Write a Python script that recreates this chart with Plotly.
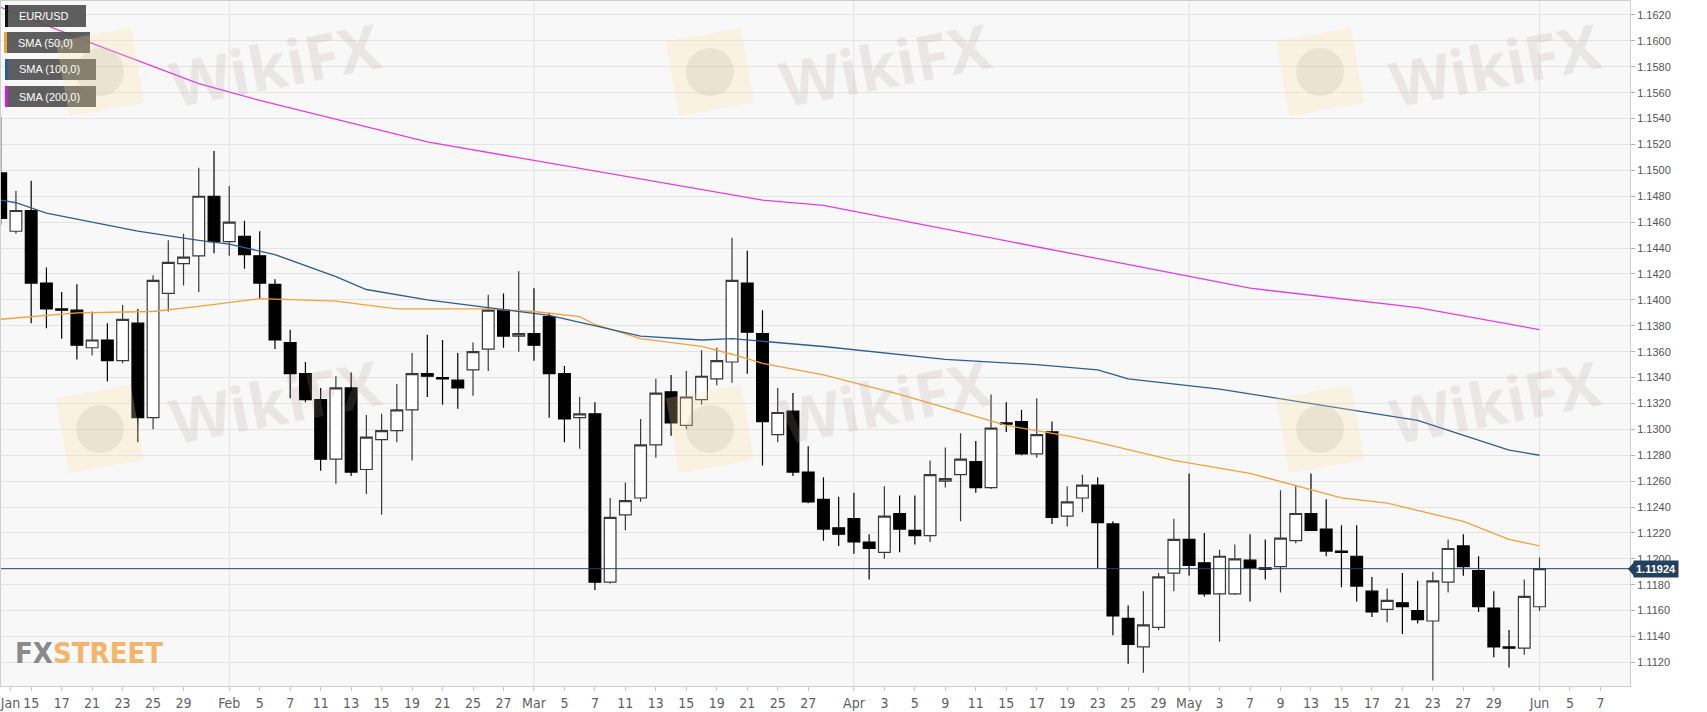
import numpy as np
import pandas as pd
import plotly.graph_objects as go

# ---------------- data ----------------
dates = pd.bdate_range("2019-01-11", "2019-06-03")

opens = [1.1498, 1.1453, 1.1469, 1.1413, 1.1393, 1.1392, 1.1363, 1.1369, 1.1353, 1.1382,
         1.1309, 1.1405, 1.1428, 1.1434, 1.1480, 1.1445, 1.1449, 1.1434, 1.1412, 1.1367,
         1.1343, 1.1323, 1.1277, 1.1332, 1.1269, 1.1292, 1.1299, 1.1315, 1.1343, 1.1340,
         1.1338, 1.1346, 1.1362, 1.1392, 1.1372, 1.1374, 1.1387, 1.1343, 1.1309, 1.1312,
         1.1182, 1.1234, 1.1247, 1.1288, 1.1329, 1.1303, 1.1323, 1.1339, 1.1352, 1.1413,
         1.1374, 1.1296, 1.1314, 1.1267, 1.1246, 1.1224, 1.1231, 1.1213, 1.1205, 1.1235,
         1.1222, 1.1218, 1.1260, 1.1265, 1.1275, 1.1255, 1.1305, 1.1306, 1.1281, 1.1298,
         1.1233, 1.1247, 1.1257, 1.1227, 1.1154, 1.1132, 1.1147, 1.1189, 1.1215, 1.1197,
         1.1173, 1.1173, 1.1199, 1.1193, 1.1194, 1.1214, 1.1235, 1.1223, 1.1206, 1.1202,
         1.1175, 1.1161, 1.1166, 1.1160, 1.1152, 1.1182, 1.1210, 1.1191, 1.1162, 1.1132,
         1.1131, 1.1163]
highs = [1.1541, 1.1484, 1.1492, 1.1425, 1.1406, 1.1412, 1.1391, 1.1382, 1.1396, 1.1393,
         1.1419, 1.1446, 1.1451, 1.1502, 1.1515, 1.1488, 1.1461, 1.1453, 1.1416, 1.1377,
         1.1352, 1.1332, 1.1341, 1.1344, 1.1311, 1.1312, 1.1335, 1.1359, 1.1373, 1.1369,
         1.1359, 1.1367, 1.1404, 1.1405, 1.1422, 1.1409, 1.1390, 1.1349, 1.1325, 1.1321,
         1.1247, 1.1259, 1.1308, 1.1339, 1.1342, 1.1345, 1.1361, 1.1363, 1.1448, 1.1438,
         1.1392, 1.1332, 1.1328, 1.1287, 1.1263, 1.1248, 1.1251, 1.1219, 1.1256, 1.1249,
         1.1249, 1.1276, 1.1286, 1.1297, 1.1291, 1.1327, 1.1321, 1.1315, 1.1324, 1.1306,
         1.1256, 1.1265, 1.1263, 1.1229, 1.1164, 1.1175, 1.1189, 1.1231, 1.1266, 1.1220,
         1.1207, 1.1211, 1.1219, 1.1215, 1.1253, 1.1256, 1.1266, 1.1246, 1.1226, 1.1226,
         1.1186, 1.1177, 1.1189, 1.1183, 1.1190, 1.1215, 1.1219, 1.1202, 1.1175, 1.1145,
         1.1184, 1.1201]
lows = [1.1458, 1.1451, 1.1382, 1.1378, 1.1370, 1.1354, 1.1357, 1.1337, 1.1351, 1.1290,
        1.1300, 1.1391, 1.1411, 1.1406, 1.1436, 1.1434, 1.1424, 1.1401, 1.1362, 1.1324,
        1.1321, 1.1268, 1.1258, 1.1264, 1.1250, 1.1234, 1.1290, 1.1276, 1.1325, 1.1319,
        1.1316, 1.1326, 1.1345, 1.1363, 1.1360, 1.1353, 1.1309, 1.1290, 1.1285, 1.1176,
        1.1181, 1.1222, 1.1244, 1.1278, 1.1295, 1.1300, 1.1319, 1.1334, 1.1336, 1.1343,
        1.1272, 1.1290, 1.1264, 1.1243, 1.1214, 1.1210, 1.1204, 1.1184, 1.1200, 1.1205,
        1.1211, 1.1213, 1.1255, 1.1229, 1.1251, 1.1254, 1.1298, 1.1280, 1.1278, 1.1227,
        1.1225, 1.1236, 1.1193, 1.1141, 1.1119, 1.1112, 1.1145, 1.1175, 1.1187, 1.1171,
        1.1136, 1.1172, 1.1167, 1.1184, 1.1174, 1.1212, 1.1222, 1.1202, 1.1178, 1.1167,
        1.1155, 1.1151, 1.1142, 1.1150, 1.1106, 1.1174, 1.1187, 1.1159, 1.1124, 1.1116,
        1.1126, 1.1160]
closes = [1.1463, 1.1469, 1.1413, 1.1393, 1.1392, 1.1365, 1.1369, 1.1353, 1.1385, 1.1309,
          1.1415, 1.1429, 1.1433, 1.1480, 1.1445, 1.1460, 1.1435, 1.1413, 1.1369, 1.1343,
          1.1323, 1.1277, 1.1332, 1.1267, 1.1294, 1.1299, 1.1315, 1.1343, 1.1341, 1.1339,
          1.1332, 1.1360, 1.1392, 1.1372, 1.1374, 1.1365, 1.1343, 1.1308, 1.1312, 1.1182,
          1.1232, 1.1245, 1.1288, 1.1328, 1.1305, 1.1325, 1.1341, 1.1353, 1.1415, 1.1375,
          1.1306, 1.1313, 1.1267, 1.1244, 1.1223, 1.1219, 1.1213, 1.1208, 1.1233, 1.1223,
          1.1218, 1.1265, 1.1262, 1.1277, 1.1255, 1.1301, 1.1304, 1.1281, 1.1296, 1.1232,
          1.1244, 1.1257, 1.1228, 1.1156, 1.1134, 1.1149, 1.1186, 1.1215, 1.1195, 1.1173,
          1.1202, 1.1200, 1.1193, 1.1192, 1.1216, 1.1235, 1.1222, 1.1206, 1.1205, 1.1179,
          1.1159, 1.1168, 1.1163, 1.1153, 1.1183, 1.1208, 1.1194, 1.1163, 1.1132, 1.1131,
          1.1171, 1.11924]

sma50_dates = ["2019-01-11", "2019-01-18", "2019-01-25", "2019-01-30", "2019-02-05", "2019-02-08",
               "2019-02-12", "2019-02-18", "2019-02-20", "2019-02-26", "2019-03-01", "2019-03-06",
               "2019-03-07", "2019-03-12", "2019-03-18", "2019-03-20", "2019-03-22", "2019-03-28",
               "2019-04-04", "2019-04-15", "2019-04-19", "2019-04-23", "2019-04-30", "2019-05-03",
               "2019-05-07", "2019-05-15", "2019-05-20", "2019-05-27", "2019-05-30", "2019-06-03"]
sma50 = [1.1385, 1.1390, 1.1391, 1.1395, 1.1401, 1.1400, 1.1399, 1.1393, 1.1393, 1.1393,
         1.1391, 1.1387, 1.1381, 1.1370, 1.1364, 1.1358, 1.1351, 1.1342, 1.1327, 1.1303,
         1.1295, 1.1290, 1.1276, 1.1270, 1.1266, 1.1247, 1.1243, 1.1229, 1.1215, 1.1210]

sma100_dates = ["2019-01-11", "2019-01-14", "2019-01-16", "2019-01-24", "2019-01-30", "2019-02-01",
                "2019-02-06", "2019-02-12", "2019-02-14", "2019-02-20", "2019-02-26", "2019-03-04",
                "2019-03-12", "2019-03-18", "2019-03-20", "2019-03-22", "2019-03-28", "2019-04-09",
                "2019-04-17", "2019-04-23", "2019-04-25", "2019-05-03", "2019-05-22", "2019-05-30",
                "2019-06-03"]
sma100 = [1.1477, 1.1475, 1.1467, 1.1453, 1.1446, 1.1443, 1.1435, 1.1418, 1.1408, 1.1400,
          1.1394, 1.1388, 1.1372, 1.1369, 1.1370, 1.1368, 1.1364, 1.1354, 1.1350, 1.1346,
          1.1339, 1.1331, 1.1307, 1.1284, 1.1280]

sma200_dates = ["2019-01-11", "2019-01-21", "2019-01-30", "2019-02-05", "2019-02-20", "2019-03-22",
                "2019-03-28", "2019-05-07", "2019-05-22", "2019-06-03"]
sma200 = [1.1626, 1.1598, 1.1567, 1.1554, 1.1522, 1.1477, 1.1473, 1.1409, 1.1394, 1.1377]

last_price = 1.11924

tick_dates = ["2019-01-14", "2019-01-15", "2019-01-17", "2019-01-21", "2019-01-23", "2019-01-25",
              "2019-01-29", "2019-02-01", "2019-02-05", "2019-02-07", "2019-02-11", "2019-02-13",
              "2019-02-15", "2019-02-19", "2019-02-21", "2019-02-25", "2019-02-27", "2019-03-01",
              "2019-03-05", "2019-03-07", "2019-03-11", "2019-03-13", "2019-03-15", "2019-03-19",
              "2019-03-21", "2019-03-25", "2019-03-27", "2019-04-01", "2019-04-03", "2019-04-05",
              "2019-04-09", "2019-04-11", "2019-04-15", "2019-04-17", "2019-04-19", "2019-04-23",
              "2019-04-25", "2019-04-29", "2019-05-01", "2019-05-03", "2019-05-07", "2019-05-09",
              "2019-05-13", "2019-05-15", "2019-05-17", "2019-05-21", "2019-05-23", "2019-05-27",
              "2019-05-29", "2019-06-03", "2019-06-05", "2019-06-07"]
tick_labels = ["Jan", "15", "17", "21", "23", "25", "29", "Feb", "5", "7", "11", "13", "15", "19",
               "21", "25", "27", "Mar", "5", "7", "11", "13", "15", "19", "21", "25", "27", "Apr",
               "3", "5", "9", "11", "15", "17", "19", "23", "25", "29", "May", "3", "7", "9", "13",
               "15", "17", "21", "23", "27", "29", "Jun", "5", "7"]
month_labels = {"Feb", "Mar", "Apr", "May", "Jun"}
y_ticks = [round(1.1120 + 0.002 * i, 4) for i in range(26)]

# ---------------- helpers ----------------
BASE = np.datetime64("2019-01-15")


def tday(ds):
    arr = np.array(pd.to_datetime(ds).values.astype("datetime64[D]"))
    return np.busday_count(BASE, arr).astype(float)


x_c = tday(dates)
x_tick = tday(tick_dates)
x_tick[0] -= 0.36  # "Jan" label sits at the clipped left edge

W, H = 1707, 712
ML, MR, MT, MB = 1, 77, 1, 26
PW, PH = W - ML - MR, H - MT - MB


def px(xp):
    return (xp - ML) / PW


def py(yp):
    return 1 - (yp - MT) / PH


fig = go.Figure()

fig.add_trace(go.Candlestick(
    x=x_c, open=opens, high=highs, low=lows, close=closes,
    increasing=dict(line=dict(color="#3a3a3a", width=1.2), fillcolor="#ffffff"),
    decreasing=dict(line=dict(color="#000000", width=1.2), fillcolor="#000000"),
    whiskerwidth=0, showlegend=False, hoverinfo="skip", name="EUR/USD"))

for xs, ys, col in [(sma50_dates, sma50, "#f0a33c"),
                    (sma100_dates, sma100, "#2f5d91"),
                    (sma200_dates, sma200, "#e040e0")]:
    fig.add_trace(go.Scatter(x=tday(xs), y=ys, mode="lines",
                             line=dict(color=col, width=1.3), showlegend=False,
                             hoverinfo="skip"))

shapes = []
# month separators
for xv, lab in zip(x_tick, tick_labels):
    if lab in month_labels:
        shapes.append(dict(type="line", xref="x", yref="paper", x0=xv, x1=xv, y0=0, y1=1,
                           line=dict(color="#e2e2e2", width=1), layer="below"))
# last price line
shapes.append(dict(type="line", xref="paper", yref="y", x0=0, x1=1, y0=last_price,
                   y1=last_price, line=dict(color="#2b4160", width=1)))
# price label arrow
shapes.append(dict(type="path", xref="paper", yref="paper",
                   path=f"M {px(1628)} {py(569)} L {px(1634)} {py(562)} L {px(1634)} {py(576)} Z",
                   fillcolor="#24405f", line=dict(width=0)))

annotations = []
# legend boxes
legend_items = [("EUR/USD", "#111111", 5, 86, 5, 27),
                ("SMA (50,0)", "#e8a33d", 4, 90, 32, 53),
                ("SMA (100,0)", "#2a5d9f", 5, 96, 59, 80),
                ("SMA (200,0)", "#d81bd8", 5, 96, 86, 107)]
for lab, col, x0, x1, y0, y1 in legend_items:
    shapes.append(dict(type="rect", xref="paper", yref="paper", x0=px(x0), x1=px(x1),
                       y0=py(y1), y1=py(y0), fillcolor="rgba(80,80,80,0.92)",
                       line=dict(width=0)))
    shapes.append(dict(type="rect", xref="paper", yref="paper", x0=px(x0), x1=px(x0 + 3),
                       y0=py(y1), y1=py(y0), fillcolor=col, line=dict(width=0)))
    annotations.append(dict(xref="paper", yref="paper", x=px(x0 + 12), y=py((y0 + y1) / 2),
                            text=lab, showarrow=False, xanchor="left", yanchor="middle",
                            font=dict(family="Liberation Sans, Arial, sans-serif", size=11,
                                      color="white")))

# watermarks
for cx in [100, 710, 1320]:
    for cy in [72, 429]:
        s = 38
        ang = np.deg2rad(-10)
        pts = []
        for dx, dy in [(-s, -s), (s, -s), (s, s), (-s, s)]:
            rx = cx + dx * np.cos(ang) - dy * np.sin(ang)
            ry = cy + dx * np.sin(ang) + dy * np.cos(ang)
            pts.append((px(rx), py(ry)))
        path = "M " + " L ".join(f"{a} {b}" for a, b in pts) + " Z"
        shapes.append(dict(type="path", xref="paper", yref="paper", path=path,
                           fillcolor="rgba(250,222,150,0.25)", line=dict(width=0)))
        shapes.append(dict(type="circle", xref="paper", yref="paper",
                           x0=px(cx - 24), x1=px(cx + 24), y0=py(cy + 24), y1=py(cy - 24),
                           fillcolor="rgba(150,140,145,0.14)", line=dict(width=0)))
        ty = max(cy - 28, 64)
        annotations.append(dict(xref="paper", yref="paper", x=px(cx + 175), y=py(ty),
                                text="<b>WikiFX</b>", showarrow=False, textangle=-11,
                                xanchor="center", yanchor="middle",
                                font=dict(family="Open Sans, Noto Sans, sans-serif", size=62,
                                          color="rgba(175,155,155,0.19)")))

# FXSTREET logo
annotations.append(dict(xref="paper", yref="paper", x=px(13), y=py(653),
                        text="<b><span style='color:#8a8a8a'>FX</span>"
                             "<span style='color:#f3b56a'>STREET</span></b>",
                        showarrow=False, xanchor="left", yanchor="middle",
                        font=dict(family="Liberation Sans Narrow, DejaVu Sans Condensed, sans-serif",
                                  size=29)))

# last price label
annotations.append(dict(xref="paper", yref="y", x=1, y=last_price, xshift=3,
                        text=f"<b>{last_price:.5f}</b>", showarrow=False, xanchor="left",
                        yanchor="middle", bgcolor="#24405f", borderpad=2,
                        font=dict(family="Liberation Sans, Arial, sans-serif", size=11,
                                  color="white")))

fig.update_layout(
    width=W, height=H,
    margin=dict(l=ML, r=MR, t=MT, b=MB, pad=0),
    paper_bgcolor="white", plot_bgcolor="#f8f8f8",
    boxgap=0.23, boxgroupgap=0,
    showlegend=False,
    shapes=shapes, annotations=annotations,
    xaxis=dict(range=[(1 - ML - 30.2) / 15.245, (W - MR - 30.2) / 15.245],
               tickmode="array", tickvals=x_tick, ticktext=tick_labels,
               showgrid=False, zeroline=False, rangeslider=dict(visible=False),
               ticks="outside", ticklen=4, tickcolor="#c8c8c8",
               showline=True, linecolor="#cfcfcf", mirror=True,
               ticklabeloverflow="allow",
               tickfont=dict(family="Liberation Sans Narrow, DejaVu Sans Condensed, sans-serif",
                             size=14, color="#606060")),
    yaxis=dict(side="right", range=[1.11018, 1.16308], tickmode="array", tickvals=y_ticks,
               tickformat=".4f", showgrid=True, gridcolor="#e4e4e4", zeroline=False,
               ticks="outside", ticklen=4, tickcolor="#b0b0b0",
               showline=True, linecolor="#cfcfcf", mirror=True,
               tickfont=dict(family="Liberation Sans, Arial, sans-serif", size=11,
                             color="#555555")),
)

fig.write_html("out.html", config={"displayModeBar": False},
               post_script="document.body.style.margin='0';")
